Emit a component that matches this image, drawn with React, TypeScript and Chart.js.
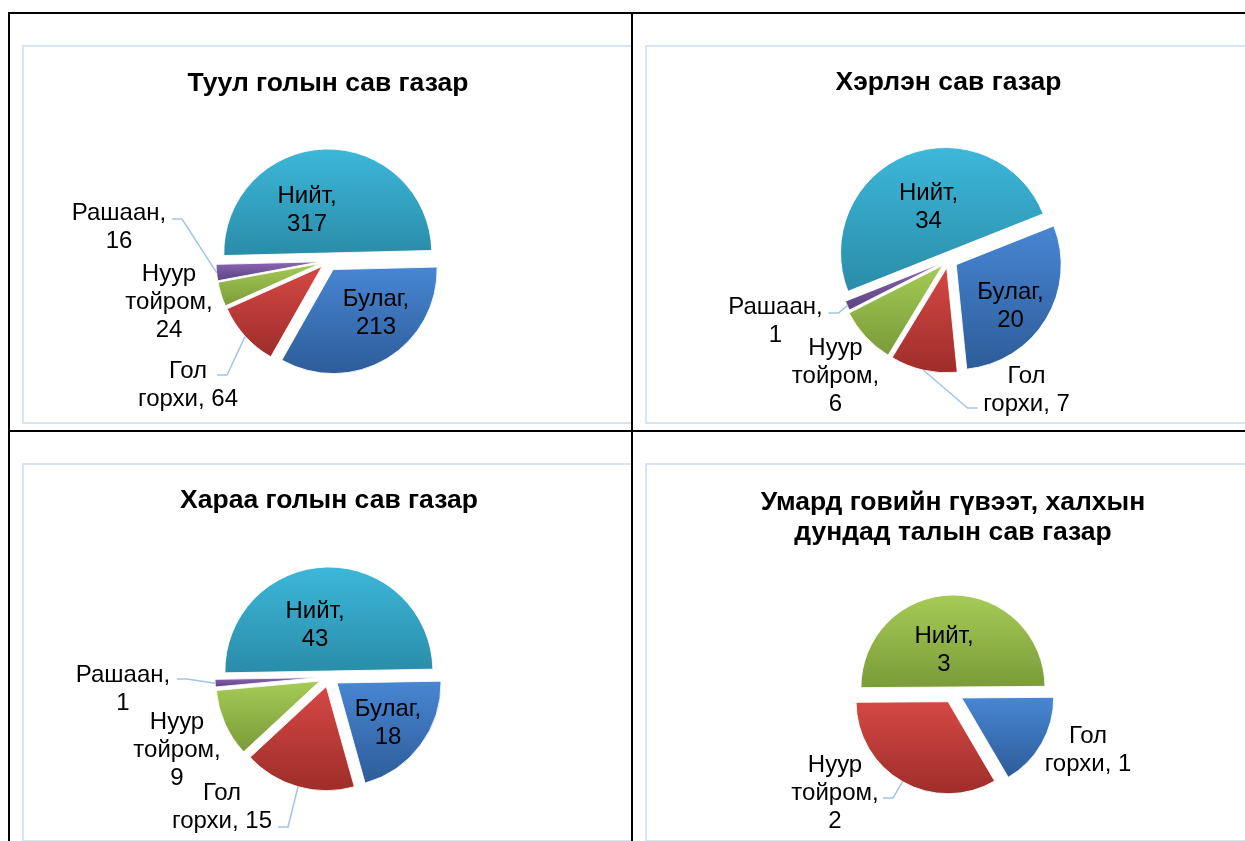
import React, { useEffect, useRef } from "react";
import { Chart, registerables } from "chart.js";
Chart.register(...registerables);

const FONT = "'Liberation Sans', Arial, Helvetica, sans-serif";

// ---------------- data ----------------
const tuulTitle = ["Туул голын сав газар"];
const tuulCategories = ["Нийт", "Булаг", "Гол\nгорхи", "Нуур\nтойром", "Рашаан"];
const tuulValues = [317, 213, 64, 24, 16];

const kherlenTitle = ["Хэрлэн сав газар"];
const kherlenCategories = ["Нийт", "Булаг", "Гол\nгорхи", "Нуур\nтойром", "Рашаан"];
const kherlenValues = [34, 20, 7, 6, 1];

const kharaaTitle = ["Хараа голын сав газар"];
const kharaaCategories = ["Нийт", "Булаг", "Гол\nгорхи", "Нуур\nтойром", "Рашаан"];
const kharaaValues = [43, 18, 15, 9, 1];

const umardTitle = ["Умард говийн гүвээт, халхын", "дундад талын сав газар"];
const umardCategories = ["Нийт", "Гол\nгорхи", "Нуур\nтойром"];
const umardValues = [3, 1, 2];

// ---------------- styles ----------------
const AQUA: [string, string] = ["#3DB7DA", "#2A8CA8"];
const BLUE: [string, string] = ["#4886D3", "#2D5C99"];
const RED: [string, string] = ["#D54844", "#9E2D2A"];
const GREEN: [string, string] = ["#A6CB56", "#7A9B39"];
const PURPLE: [string, string] = ["#8A66B3", "#5C4483"];

type LabelSpec = { dx: number; dy: number; valueNewLine: boolean; attach?: [number, number] };
type Cfg = {
  title: string[];
  categories: string[];
  values: number[];
  colors: [string, string][];
  radius: number;
  rotation: number;
  explode: number[];
  padding: { left: number; right: number; top: number; bottom: number };
  titlePadding: { top: number; bottom: number };
  labels: LabelSpec[];
};

const charts: Cfg[] = [
  {
    title: tuulTitle,
    categories: tuulCategories,
    values: tuulValues,
    colors: [AQUA, BLUE, RED, GREEN, PURPLE],
    radius: 104,
    rotation: -91.4,
    explode: [8, 10, 8, 8, 8],
    padding: { left: 0, right: 4, top: 0, bottom: 0 },
    titlePadding: { top: 22, bottom: 1 },
    labels: [
      { dx: -21, dy: -51, valueNewLine: true },
      { dx: 48, dy: 52, valueNewLine: true },
      { dx: -140, dy: 124, valueNewLine: false, attach: [-111, 114] },
      { dx: -159, dy: 41, valueNewLine: true },
      { dx: -209, dy: -34, valueNewLine: true, attach: [-156, -42] },
    ],
  },
  {
    title: kherlenTitle,
    categories: kherlenCategories,
    values: kherlenValues,
    colors: [AQUA, BLUE, RED, GREEN, PURPLE],
    radius: 105,
    rotation: -111.65,
    explode: [8, 9, 8, 8, 6],
    padding: { left: 0, right: 9, top: 0, bottom: 0 },
    titlePadding: { top: 21, bottom: 0 },
    labels: [
      { dx: -20, dy: -53, valueNewLine: true },
      { dx: 62, dy: 46, valueNewLine: true },
      { dx: 78, dy: 130, valueNewLine: false, attach: [29, 148] },
      { dx: -113, dy: 116, valueNewLine: true },
      { dx: -173, dy: 61, valueNewLine: true, attach: [-120, 53] },
    ],
  },
  {
    title: kharaaTitle,
    categories: kharaaCategories,
    values: kharaaValues,
    colors: [AQUA, BLUE, RED, GREEN, PURPLE],
    radius: 104,
    rotation: -91,
    explode: [6, 10, 10, 10, 10],
    padding: { left: 0, right: 2, top: 0, bottom: 2 },
    titlePadding: { top: 21, bottom: 0 },
    labels: [
      { dx: -14, dy: -52, valueNewLine: true },
      { dx: 59, dy: 46, valueNewLine: true },
      { dx: -107, dy: 130, valueNewLine: false, attach: [-51, 150] },
      { dx: -152, dy: 73, valueNewLine: true },
      { dx: -206, dy: 12, valueNewLine: true, attach: [-152, 2] },
    ],
  },
  {
    title: umardTitle,
    categories: umardCategories,
    values: umardValues,
    colors: [GREEN, BLUE, RED],
    radius: 92,
    rotation: -90.4,
    explode: [6, 10, 10],
    padding: { left: 0, right: 0, top: 0, bottom: 0 },
    titlePadding: { top: 23, bottom: -2 },
    labels: [
      { dx: -9, dy: -43, valueNewLine: true },
      { dx: 135, dy: 57, valueNewLine: false },
      { dx: -118, dy: 100, valueNewLine: true, attach: [-70, 105] },
    ],
  },
];

const LINE_H = 28;
const TITLE_SIZE = 26.5;

function makeDecor(cfg: Cfg) {
  return {
    id: "pieDecor",
    beforeDatasetsDraw(chart: any) {
      const meta = chart.getDatasetMeta(0);
      const ctx: CanvasRenderingContext2D = chart.ctx;
      meta.data.forEach((arc: any, i: number) => {
        const { x, y, startAngle, endAngle, outerRadius } = arc;
        const mid = (startAngle + endAngle) / 2;
        const e = cfg.explode[i] || 0;
        let minY = y;
        let maxY = y;
        const angles = [startAngle, endAngle];
        for (let k = -12; k <= 12; k++) {
          const a = (k * Math.PI) / 2;
          if (a > startAngle && a < endAngle) angles.push(a);
        }
        angles.forEach((a) => {
          const py = y + Math.sin(a) * outerRadius;
          minY = Math.min(minY, py);
          maxY = Math.max(maxY, py);
        });
        const g = ctx.createLinearGradient(0, minY, 0, maxY);
        g.addColorStop(0, cfg.colors[i][0]);
        g.addColorStop(1, cfg.colors[i][1]);
        const saved = arc.options;
        arc.options = { ...saved, backgroundColor: g, offset: 0 };
        ctx.save();
        ctx.translate(Math.cos(mid) * e, Math.sin(mid) * e);
        arc.draw(ctx);
        ctx.restore();
        arc.options = saved;
      });
      return false;
    },
    afterDraw(chart: any) {
      const meta = chart.getDatasetMeta(0);
      const ctx: CanvasRenderingContext2D = chart.ctx;
      const cats = chart.data.labels as string[];
      const vals = chart.data.datasets[0].data as number[];
      meta.data.forEach((arc: any, i: number) => {
        const spec = cfg.labels[i];
        if (!spec) return;
        const { x, y, startAngle, endAngle, outerRadius } = arc;
        const mid = (startAngle + endAngle) / 2;
        const e = cfg.explode[i] || 0;
        const lines = String(cats[i]).split("\n");
        const last = lines.length - 1;
        if (spec.valueNewLine) {
          lines[last] += ",";
          lines.push(String(vals[i]));
        } else {
          lines[last] += ", " + vals[i];
        }
        if (spec.attach) {
          const ax = x + Math.cos(mid) * (outerRadius + e);
          const ay = y + Math.sin(mid) * (outerRadius + e);
          const tx = x + spec.attach[0];
          const ty = y + spec.attach[1];
          const ex = tx + (ax > tx ? 10 : -10);
          ctx.save();
          ctx.strokeStyle = "#A3C3E9";
          ctx.lineWidth = 1.5;
          ctx.beginPath();
          ctx.moveTo(ax, ay);
          ctx.lineTo(ex, ty);
          ctx.lineTo(tx, ty);
          ctx.stroke();
          ctx.restore();
        }
        const cx = x + spec.dx;
        const cy = y + spec.dy;
        ctx.save();
        ctx.font = `24px ${FONT}`;
        ctx.fillStyle = "#000";
        ctx.textAlign = "center";
        ctx.textBaseline = "middle";
        lines.forEach((t, k) => {
          ctx.fillText(t, cx, cy + (k - (lines.length - 1) / 2) * LINE_H);
        });
        ctx.restore();
      });
    },
  };
}

function PieChart({ cfg }: { cfg: Cfg }) {
  const ref = useRef<HTMLCanvasElement>(null);
  useEffect(() => {
    const chart = new Chart(ref.current as HTMLCanvasElement, {
      type: "pie",
      data: {
        labels: cfg.categories,
        datasets: [
          {
            data: cfg.values,
            backgroundColor: cfg.colors.map((c) => c[0]),
            borderColor: "rgba(255,255,255,0.85)",
            borderWidth: 1,
          },
        ],
      },
      options: {
        responsive: false,
        animation: false,
        events: [],
        radius: cfg.radius,
        rotation: cfg.rotation,
        layout: { padding: cfg.padding },
        plugins: {
          legend: { display: false },
          tooltip: { enabled: false },
          title: {
            display: true,
            text: cfg.title,
            color: "#000",
            font: { family: FONT, size: TITLE_SIZE, weight: "bold", lineHeight: 30 / TITLE_SIZE },
            padding: cfg.titlePadding,
          },
        },
      } as any,
      plugins: [makeDecor(cfg) as any],
    });
    return () => chart.destroy();
  }, [cfg]);
  return <canvas ref={ref} width={612} height={375} style={{ display: "block" }} />;
}

const cellStyle = (left: number, top: number, width: number, height: number): React.CSSProperties => ({
  position: "absolute",
  left,
  top,
  width,
  height,
  overflow: "hidden",
});

const boxStyle: React.CSSProperties = {
  position: "absolute",
  left: 12,
  top: 31,
  width: 612,
  height: 375,
  border: "2px solid #D9E4F2",
  background: "#fff",
};

export default function App() {
  return (
    <div
      style={{
        position: "absolute",
        left: 0,
        top: 0,
        width: 1245,
        height: 841,
        overflow: "hidden",
        background: "#fff",
      }}
    >
      <div style={cellStyle(10, 14, 621, 416)}>
        <div style={boxStyle}>
          <PieChart cfg={charts[0]} />
        </div>
      </div>
      <div style={cellStyle(633, 14, 612, 416)}>
        <div style={boxStyle}>
          <PieChart cfg={charts[1]} />
        </div>
      </div>
      <div style={cellStyle(10, 432, 621, 409)}>
        <div style={boxStyle}>
          <PieChart cfg={charts[2]} />
        </div>
      </div>
      <div style={cellStyle(633, 432, 612, 409)}>
        <div style={boxStyle}>
          <PieChart cfg={charts[3]} />
        </div>
      </div>
      <div style={{ position: "absolute", left: 8, top: 12, width: 1300, height: 2, background: "#000" }} />
      <div style={{ position: "absolute", left: 8, top: 12, width: 2, height: 900, background: "#000" }} />
      <div style={{ position: "absolute", left: 631, top: 12, width: 2, height: 900, background: "#000" }} />
      <div style={{ position: "absolute", left: 8, top: 430, width: 1300, height: 2, background: "#000" }} />
    </div>
  );
}
